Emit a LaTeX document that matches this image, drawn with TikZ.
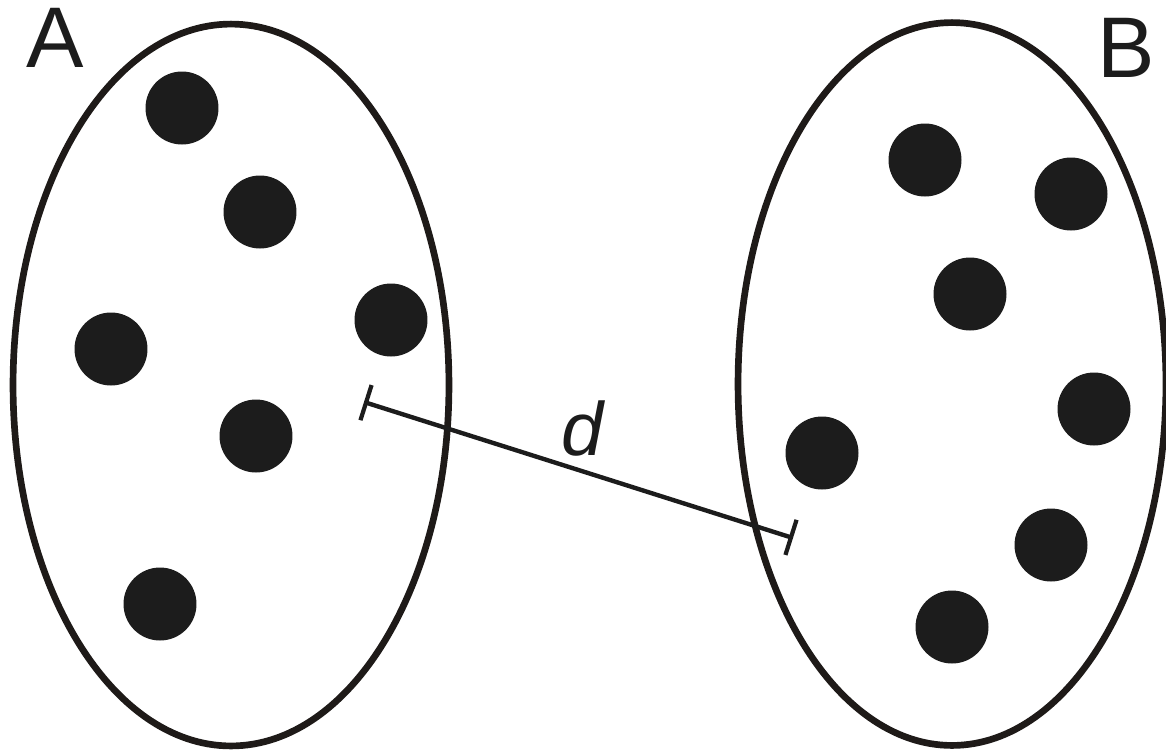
\documentclass[tikz,border=0pt]{standalone}
\usepackage{fontspec}
\setmainfont{Liberation Sans}
\usepackage{xcolor}
\usetikzlibrary{shapes.geometric,arrows.meta}
\definecolor{inkdark}{RGB}{30,26,24}
\definecolor{dotfill}{RGB}{28,28,28}
\tikzset{
  setshape/.style={ellipse,draw=inkdark,line width=3.8pt,inner sep=0pt},
  dot/.style={circle,fill=dotfill,inner sep=0pt,minimum size=1.46cm},
  setlabel/.style={inner sep=0pt,font=\fontsize{49}{50}\selectfont,text=dotfill},
  dist/.style={line width=2.5pt,draw=dotfill,{Bar[width=21pt,line width=2.4pt]}-{Bar[width=21pt,line width=2.4pt]}}
}

\begin{document}
\begin{tikzpicture}[x=0.02cm,y=-0.02cm]
    \useasboundingbox (0,0) rectangle (1166,752);
    % the two sets
    \node[setshape,minimum width=8.72cm,minimum height=14.44cm] (setA) at (231,385) {};
    \node[setshape,minimum width=8.56cm,minimum height=14.46cm] (setB) at (952,384) {};
    \node[setlabel] (labA) at (55,38) {A};
    \node[setlabel] (labB) at (1126,48) {B};
    % elements of A
    \node[dot] (a1) at (182,108) {}; \node[dot] (a2) at (260,212) {};
    \node[dot] (a3) at (391,320) {}; \node[dot] (a4) at (111,349) {};
    \node[dot] (a5) at (256,436) {}; \node[dot] (a6) at (160,604) {};
    % elements of B
    \node[dot] (b1) at (925,160) {}; \node[dot] (b2) at (1071,194) {};
    \node[dot] (b3) at (970,294) {}; \node[dot] (b4) at (1094,409) {};
    \node[dot] (b5) at (822,453) {}; \node[dot] (b6) at (1051,545) {};
    \node[dot] (b7) at (952,627) {};
    % distance between the sets
    \coordinate (dA) at (364,402);
    \coordinate (dB) at (793,538);
    \draw[dist] (dA) -- (dB);
    \node[inner sep=0pt,font=\fontsize{43}{44}\selectfont\itshape,text=dotfill] (dlab) at (583,429) {d};
\end{tikzpicture}
\end{document}
